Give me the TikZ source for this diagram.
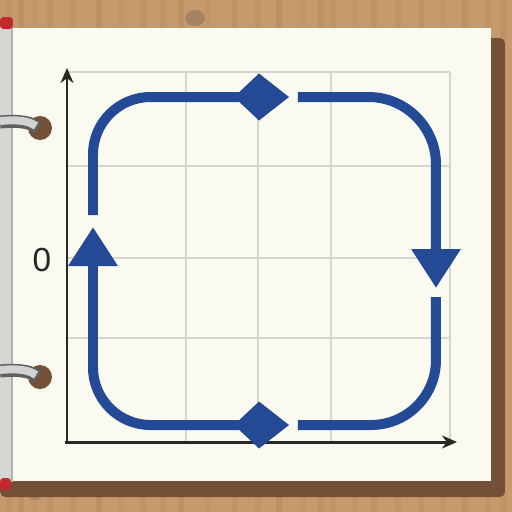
\documentclass[tikz,border=0pt]{standalone}
\usepackage{fontspec}
\setmainfont{Liberation Sans}
\usetikzlibrary{arrows.meta}
\definecolor{go}{RGB}{198,154,108}
\definecolor{vango}{RGB}{172,128,84}
\definecolor{bong}{RGB}{116,80,54}
\definecolor{giay}{RGB}{251,250,241}
\definecolor{luoi}{RGB}{214,214,208}
\definecolor{xanh}{RGB}{36,74,150}
\definecolor{truc}{RGB}{40,40,36}
\definecolor{gay}{RGB}{214,214,212}
\definecolor{do}{RGB}{196,40,45}
\tikzset{
  vong/.style={xanh, line width=0.2cm, rounded corners=1.15cm},
  dieu/.tip={Kite[length=1.1cm, width=0.94cm, inset=0.5cm]},
  tamgiac/.tip={Triangle[length=0.78cm, width=0.94cm]}
}
\begin{document}
\begin{tikzpicture}[x=0.02cm,y=-0.02cm,>=Stealth]
  \def\khoen(#1){
    \fill[bong] (40,#1) circle (12);
    \draw[gray!75!black, line width=0.26cm] (0,#1-6) .. controls (22,#1-8) and (32,#1-5) .. (38,#1);
    \draw[gray!35, line width=0.16cm] (0,#1-7) .. controls (22,#1-9) and (30,#1-6) .. (36,#1-2);}
  \useasboundingbox (0,0) rectangle (512,512);
  % nen go
  \fill[go] (0,0) rectangle (512,512);
  \foreach \x/\o in {6/0.2,18/0.3,31/0.15,47/0.25,70/0.2,96/0.35,118/0.15,140/0.25,160/0.2,178/0.3,205/0.15,232/0.25,255/0.2,276/0.35,300/0.15,318/0.3,330/0.2,352/0.15,371/0.3,395/0.2,418/0.25,440/0.15,462/0.3,485/0.2,500/0.25}
    \fill[vango, opacity=\o] (\x,0) rectangle (\x+6,512);
  \fill[bong!80, opacity=0.6] (195,18) ellipse (10 and 8);
  \fill[bong!80, opacity=0.5] (35,495) ellipse (7 and 5);
  % trang giay
  \fill[bong, rounded corners=3] (0,38) rectangle (505,497);
  \fill[giay] (12,28) rectangle (491,481);
  \fill[gay] (0,26) rectangle (12,482);
  \draw[gray!60, line width=0.04cm] (12,26) -- (12,482);
  \fill[do, rounded corners=2] (0,17) rectangle (13,29);
  \fill[do, rounded corners=2] (0,478) rectangle (11,490);
  \khoen(128)
  \khoen(377)
  % luoi
  \foreach \x in {186,258,331,450}
    \draw[luoi, line width=0.03cm] (\x,72) -- (\x,442);
  \foreach \y in {72,166,258,338}
    \draw[luoi, line width=0.03cm] (67,\y) -- (450,\y);
  % truc
  \coordinate (O) at (67,442);
  \draw[truc, line width=0.06cm, -{Stealth[length=0.3cm, width=0.26cm]}] (O) -- (67,68);
  \draw[truc, line width=0.06cm, -{Stealth[length=0.3cm, width=0.26cm]}] (65,442) -- (457,442);
  \node[truc, font=\fontsize{19}{19}\selectfont] (so0) at (42,260) {0};
  % vong
  \coordinate (tl) at (93,97);
  \coordinate (tr) at (436,97);
  \coordinate (br) at (436,425);
  \coordinate (bl) at (93,425);
  \draw[vong, -{dieu}] (93,215) -- (tl) -- (289,97);
  \draw[vong, rounded corners=1.35cm, -{tamgiac}] (298,97) -- (tr) -- (436,288);
  \draw[vong, rounded corners=1.3cm] (436,297) -- (br) -- (298,425);
  \draw[vong, {tamgiac}-{dieu}] (93,227) -- (bl) -- (289,425);
\end{tikzpicture}
\end{document}
